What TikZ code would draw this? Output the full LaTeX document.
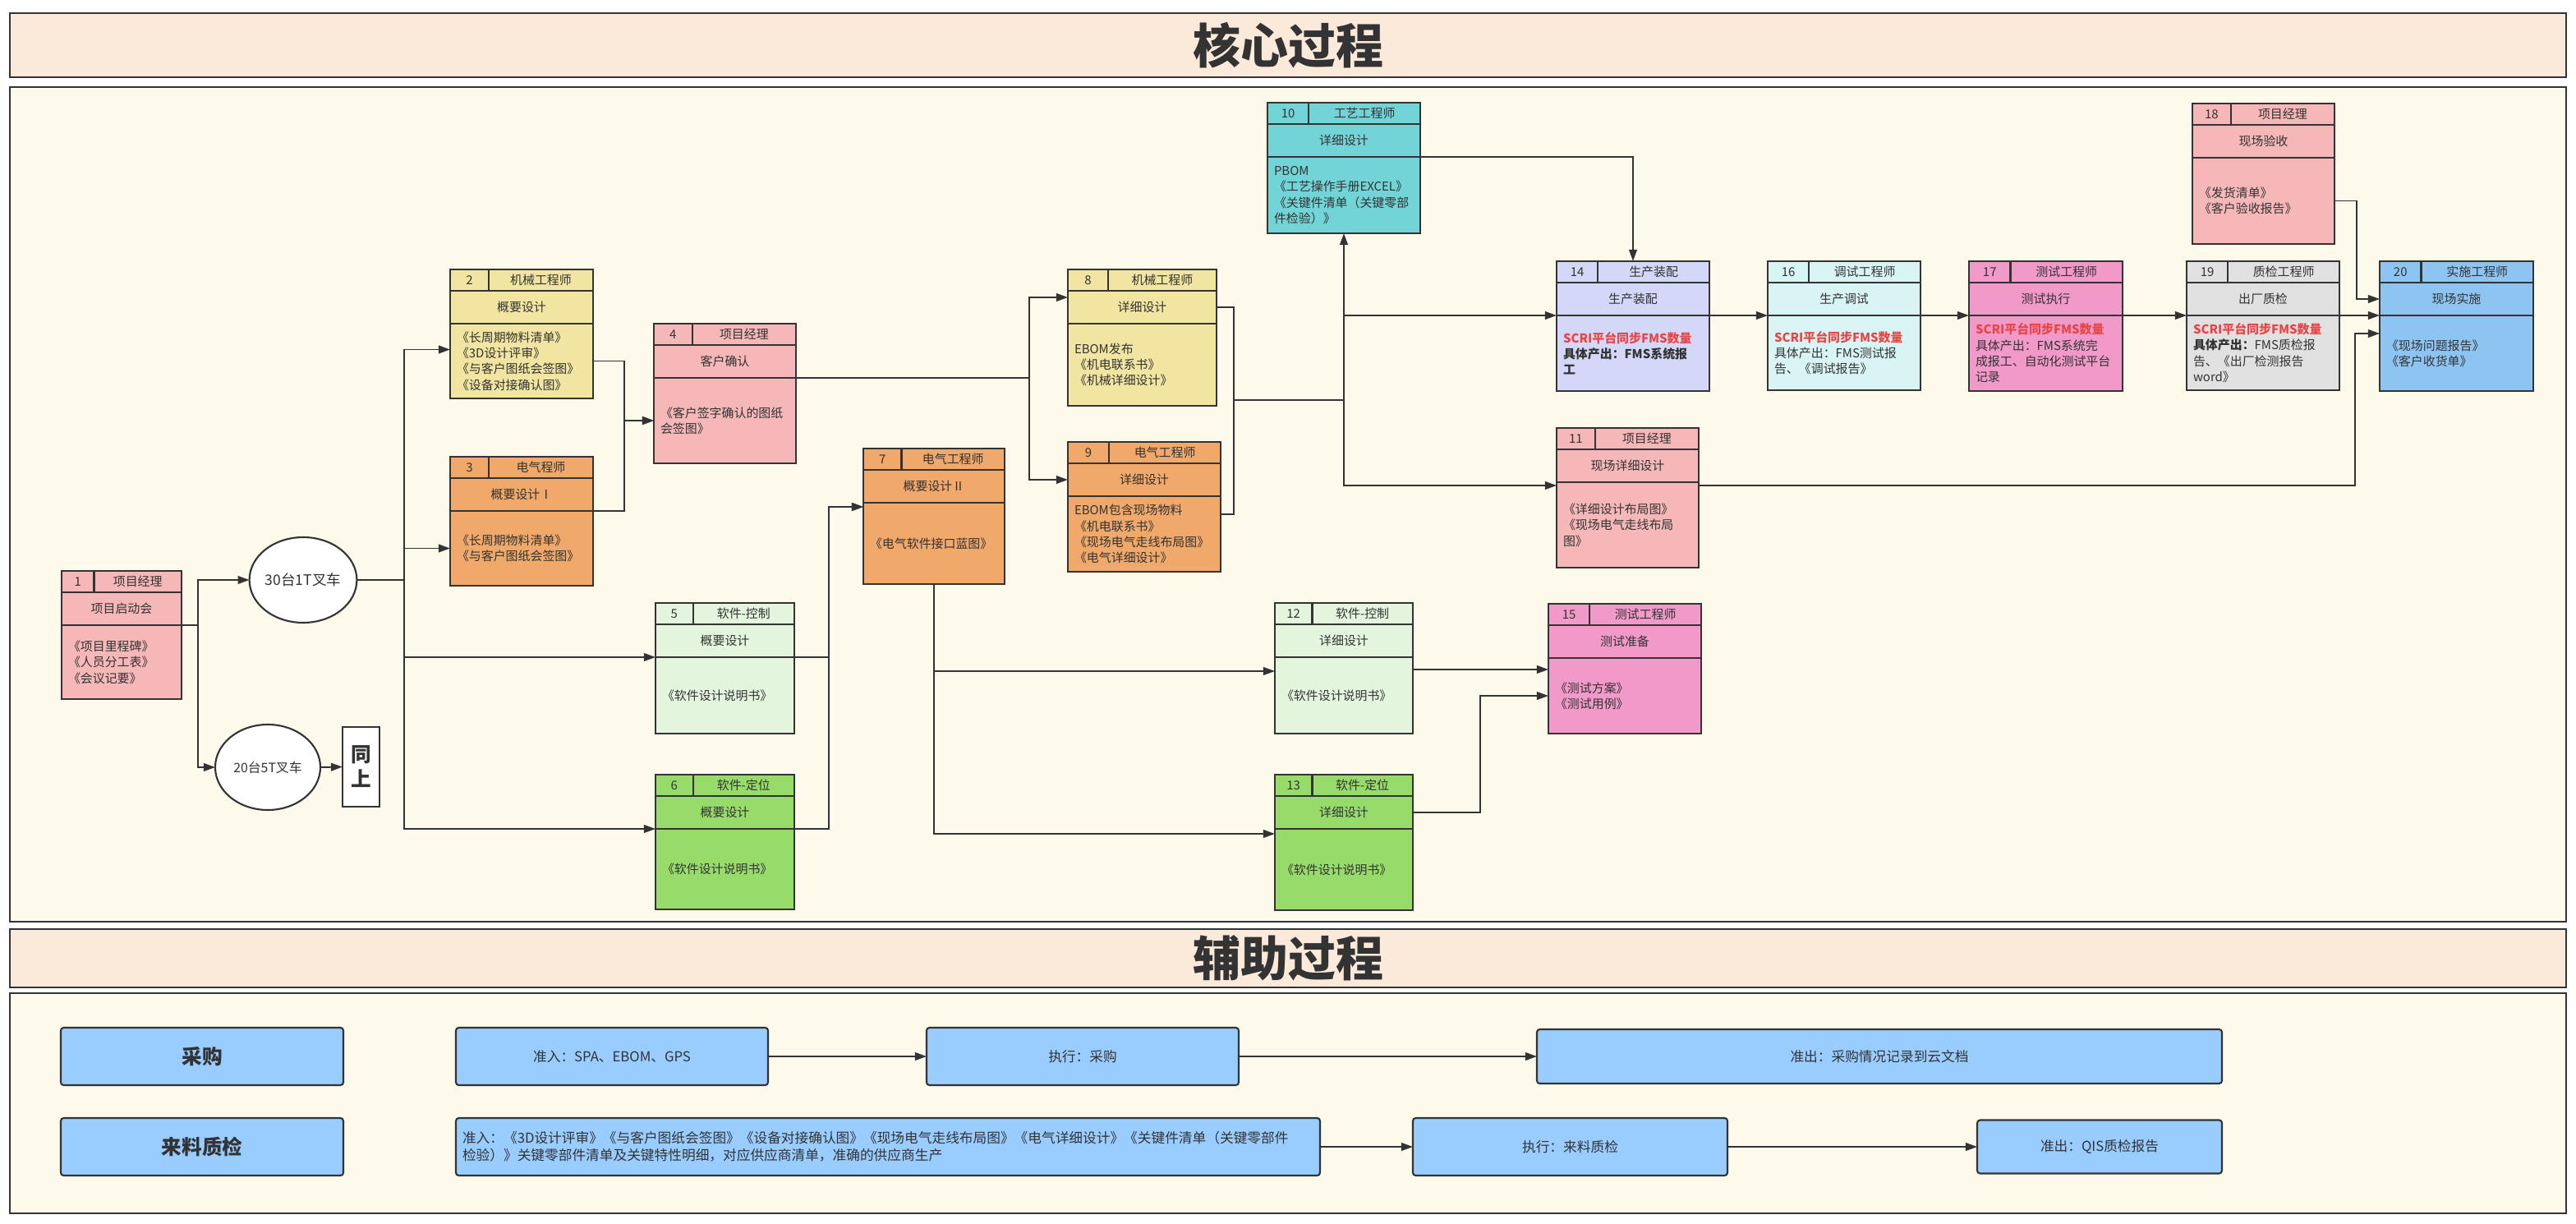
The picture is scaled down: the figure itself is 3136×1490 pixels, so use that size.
\documentclass[tikz,border=0pt]{standalone}
\usepackage{fontspec}
\setmainfont{Noto Sans CJK SC}
\usepackage{tikz}
\usepackage{xcolor}
\usetikzlibrary{arrows.meta,positioning,shapes.geometric,fit,calc}
\definecolor{linec}{HTML}{333333}
\definecolor{txt}{HTML}{333333}
\definecolor{redt}{HTML}{E84545}
\definecolor{pinkc}{HTML}{F5B7B7}
\definecolor{yellowc}{HTML}{F1E5A1}
\definecolor{orangec}{HTML}{F0A96A}
\definecolor{mintc}{HTML}{E3F6DD}
\definecolor{greenc}{HTML}{97DB6B}
\definecolor{tealc}{HTML}{72D4D7}
\definecolor{lilacc}{HTML}{D3D7F8}
\definecolor{icec}{HTML}{D9F4F4}
\definecolor{rosec}{HTML}{F199C9}
\definecolor{greyc}{HTML}{E1E1E1}
\definecolor{bluec}{HTML}{8DC4F1}
\definecolor{auxc}{HTML}{99CCFF}
\definecolor{bandc}{HTML}{FBE9DA}
\definecolor{areac}{HTML}{FDF9EB}
\def\px{0.02cm}
\tikzstyle{cell}=[draw=linec,line width=1.3pt,inner sep=0pt,outer sep=0pt,minimum height={26*\px},text=txt,font=\fontsize{8.5}{11}\selectfont]
\tikzstyle{cellbody}=[cell,inner xsep={8*\px},align=left]
\tikzstyle{link}=[-{Triangle[length=8pt,width=5.5pt]},draw=linec,line width=1.1pt]
\tikzstyle{wire}=[draw=linec,line width=1.1pt]
\tikzstyle{oval}=[ellipse,draw=linec,line width=1.2pt,fill=white,inner sep=0pt,outer sep=0pt,minimum width={128*\px},minimum height={104*\px},text=txt,font=\fontsize{10}{12}\selectfont]
\tikzstyle{band}=[draw=linec,line width=1.6pt,fill=bandc]
\tikzstyle{area}=[draw=linec,line width=1.6pt,fill=areac]
\tikzstyle{headline}=[text=txt,font=\fontsize{33}{36}\selectfont\bfseries]
\tikzstyle{auxbox}=[draw=linec,line width=1.2pt,fill=auxc,rounded corners=2pt,inner sep=0pt,outer sep=0pt,minimum height={70*\px},text=txt,font=\fontsize{9.5}{12}\selectfont]
\tikzstyle{auxhead}=[auxbox,minimum width={344*\px},font=\fontsize{14}{16}\selectfont\bfseries]
\def\scri{{\color{redt}\bfseries SCRI平台同步FMS数量}}
% card: name, colour, top left, width, body height, number, role, title, outputs
\def\card#1#2#3#4#5#6#7#8#9{%
  \node[cell,fill=#2,minimum width={0.27*#4*\px},anchor=north west] (#1-n) at (#3) {#6};
  \node[cell,fill=#2,minimum width={0.73*#4*\px},anchor=north west] (#1-r) at (#1-n.north east) {#7};
  \node[cell,fill=#2,minimum width={#4*\px},minimum height={40*\px},anchor=north west] (#1-t) at (#1-n.south west) {#8};
  \node[cellbody,fill=#2,minimum width={#4*\px},minimum height={#5*\px},text width={#4*\px-16*\px},anchor=north west] (#1-b) at (#1-t.south west) {#9};
  \node[fit=(#1-n)(#1-b),inner sep=0pt,outer sep=0pt] (#1) {};
}

\begin{document}
\begin{tikzpicture}[x=0.02cm,y=-0.02cm]
    \useasboundingbox (0,0) rectangle (3136,1490);

    \draw[band] (12,16) rectangle (3124,94);
    \node[headline] (core-title) at (1568,55) {核心过程};
    \draw[area] (12,106) rectangle (3124,1122);
    \draw[band] (12,1131) rectangle (3124,1202);
    \node[headline] (aux-title) at (1568,1166) {辅助过程};
    \draw[area] (12,1209) rectangle (3124,1477);

    \card{n1}{pinkc}{75,695}{146}{90}{1}{项目经理}{项目启动会}{《项目里程碑》\\《人员分工表》\\《会议记要》}
    \card{n2}{yellowc}{548,328}{174}{91}{2}{机械工程师}{概要设计}{《长周期物料清单》\\《3D设计评审》\\《与客户图纸会签图》\\《设备对接确认图》}
    \card{n3}{orangec}{548,556}{174}{91}{3}{电气程师}{概要设计Ⅰ}{《长周期物料清单》\\《与客户图纸会签图》}
    \card{n4}{pinkc}{796,394}{173}{104}{4}{项目经理}{客户确认}{《客户签字确认的图纸\\会签图》}
    \card{n5}{mintc}{798,734}{169}{93}{5}{软件-控制}{概要设计}{《软件设计说明书》}
    \card{n6}{greenc}{798,943}{169}{98}{6}{软件-定位}{概要设计}{《软件设计说明书》}
    \card{n7}{orangec}{1051,546}{172}{99}{7}{电气工程师}{概要设计Ⅱ}{《电气软件接口蓝图》}
    \card{n8}{yellowc}{1300,328}{181}{100}{8}{机械工程师}{详细设计}{EBOM发布\\《机电联系书》\\《机械详细设计》}
    \card{n9}{orangec}{1300,538}{186}{92}{9}{电气工程师}{详细设计}{EBOM包含现场物料\\《机电联系书》\\《现场电气走线布局图》\\《电气详细设计》}
    \card{n10}{tealc}{1543,125}{186}{93}{10}{工艺工程师}{详细设计}{PBOM\\《工艺操作手册EXCEL》\\《关键件清单（关键零部\\件检验）》}
    \card{n11}{pinkc}{1895,521}{173}{104}{11}{项目经理}{现场详细设计}{《详细设计布局图》\\《现场电气走线布局\\图》}
    \card{n12}{mintc}{1552,734}{168}{93}{12}{软件-控制}{详细设计}{《软件设计说明书》}
    \card{n13}{greenc}{1552,943}{168}{99}{13}{软件-定位}{详细设计}{《软件设计说明书》}
    \card{n14}{lilacc}{1895,318}{186}{92}{14}{生产装配}{生产装配}{\scri\\{\bfseries 具体产出：FMS系统报}\\{\bfseries 工}}
    \card{n15}{rosec}{1885,735}{186}{92}{15}{测试工程师}{测试准备}{《测试方案》\\《测试用例》}
    \card{n16}{icec}{2152,318}{186}{91}{16}{调试工程师}{生产调试}{\scri\\具体产出：FMS测试报\\告、《调试报告》}
    \card{n17}{rosec}{2397,318}{187}{92}{17}{测试工程师}{测试执行}{\scri\\具体产出：FMS系统完\\成报工、自动化测试平台\\记录}
    \card{n18}{pinkc}{2669,126}{173}{105}{18}{项目经理}{现场验收}{《发货清单》\\《客户验收报告》}
    \card{n19}{greyc}{2662,318}{186}{91}{19}{质检工程师}{出厂质检}{\scri\\{\bfseries 具体产出：}FMS质检报\\告、《出厂检测报告\\word》}
    \card{n20}{bluec}{2897,318}{187}{92}{20}{实施工程师}{现场实施}{《现场问题报告》\\《客户收货单》}

    \node[oval] (e30) at (369,706) {30台1T叉车};
    \node[oval,font=\fontsize{9}{11}\selectfont] (e20) at (326,934) {20台5T叉车};
    \node[draw=linec,line width=1.2pt,fill=white,inner sep=0pt,outer sep=0pt,minimum width={45*\px},minimum height={97*\px},align=center,text=txt,font=\fontsize{14}{17}\selectfont\bfseries] (same) at (439.5,933.5) {同\\上};

    \coordinate (j1) at (1636,487);

    \draw[link] (n1-b.north east) -- ++(20,0) |- (e30.west);
    \draw[link] (n1-b.north east) -- ++(20,0) |- (e20.west);
    \draw[link] (e20.east) -- (same.west);
    \draw[link] (e30.east) -- ++(58,0) |- ($(n2-b.west)+(0,-14)$);
    \draw[link] (e30.east) -- ++(58,0) |- (n3-b.west);
    \draw[link] (e30.east) -- ++(58,0) |- (n5-b.north west);
    \draw[link] (e30.east) -- ++(58,0) |- (n6-b.north west);
    \draw[link] (n2-b.east) -- ++(38,0) |- (n4-b.west);
    \draw[link] (n3-b.north east) -- ++(38,0) |- (n4-b.west);
    \draw[link] (n4-b.north east) -- ++(284,0) |- ($(n8-t.west)+(0,-12)$);
    \draw[link] (n4-b.north east) -- ++(284,0) |- (n9-t.west);
    \draw[link] (n5-b.north east) -- ++(42,0) |- ($(n7-b.north west)+(0,5)$);
    \draw[link] (n6-b.north east) -- ++(42,0) |- ($(n7-b.north west)+(0,5)$);
    \draw[link] (n7-b.south) |- ($(n12-b.north west)+(0,17)$);
    \draw[link] (n7-b.south) |- ($(n13-b.north west)+(0,6)$);
    \draw[wire] (n8-t.east) -- ++(21,0) |- (j1);
    \draw[wire] ($(n9-b.north east)+(0,22)$) -- ++(16,0) |- (j1);
    \draw[link] (j1) -- (n10.south);
    \draw[link] (j1) |- (n14-b.north west);
    \draw[link] (j1) |- ($(n11-b.north west)+(0,4)$);
    \draw[link] (n10-b.north east) -| (n14.north);
    \draw[link] (n14-b.north east) -- (n16-b.north west);
    \draw[link] (n16-b.north east) -- (n17-b.north west);
    \draw[link] (n17-b.north east) -- (n19-b.north west);
    \draw[link] (n19-b.north east) -- (n20-b.north west);
    \draw[link] (n18-b.east) -- ++(27,0) |- (n20-t.west);
    \draw[link] ($(n11-b.north east)+(0,4)$) -- ++(799,0) |- ($(n20-b.north west)+(0,22)$);
    \draw[link] ($(n12-b.north east)+(0,15)$) -- ($(n15-b.north west)+(0,14)$);
    \draw[link] (n13-t.east) -- ++(82,0) |- (n15-b.west);

    \node[auxhead] (buy) at (246,1286) {采购};
    \node[auxbox,minimum width={380*\px}] (buy-in) at (745,1286) {准入：SPA、EBOM、GPS};
    \node[auxbox,minimum width={380*\px}] (buy-do) at (1318,1286) {执行：采购};
    \node[auxbox,minimum width={834*\px},minimum height={66*\px}] (buy-out) at (2288,1286) {准出：采购情况记录到云文档};
    \node[auxhead] (iqc) at (246,1396) {来料质检};
    \node[auxbox,minimum width={1052*\px},text width={1036*\px},inner xsep={8*\px},align=left] (iqc-in) at (1081,1396) {准入：《3D设计评审》《与客户图纸会签图》《设备对接确认图》《现场电气走线布局图》《电气详细设计》《关键件清单（关键零部件\\检验）》关键零部件清单及关键特性明细，对应供应商清单，准确的供应商生产};
    \node[auxbox,minimum width={383*\px}] (iqc-do) at (1911.5,1396) {执行：来料质检};
    \node[auxbox,minimum width={298*\px},minimum height={65*\px}] (iqc-out) at (2556,1396) {准出：QIS质检报告};

    \draw[link] (buy-in) -- (buy-do);
    \draw[link] (buy-do) -- (buy-out);
    \draw[link] (iqc-in) -- (iqc-do);
    \draw[link] (iqc-do) -- (iqc-out);
\end{tikzpicture}
\end{document}
